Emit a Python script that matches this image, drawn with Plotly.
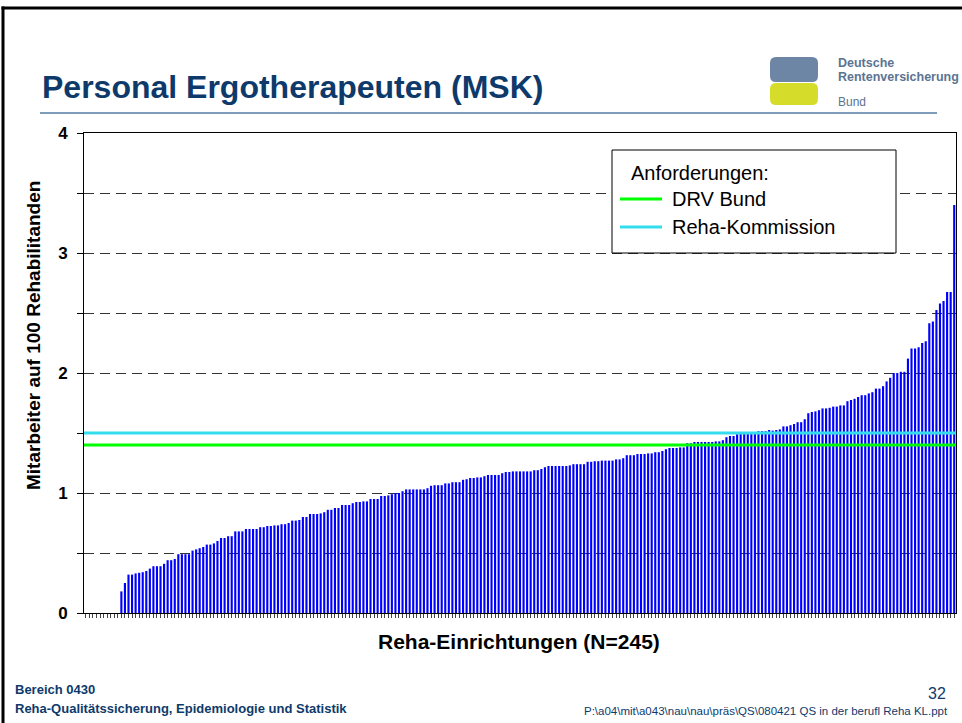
import plotly.graph_objects as go

# ---------------- data ----------------
zeros = [0.0] * 10
seg_a = [0.18, 0.25, 0.32, 0.32, 0.33, 0.335, 0.34, 0.35, 0.37, 0.39, 0.39, 0.39, 0.41,
         0.44, 0.44, 0.45, 0.49, 0.49, 0.49, 0.49, 0.52, 0.53, 0.54, 0.55, 0.57, 0.57,
         0.58, 0.60, 0.625, 0.625, 0.64, 0.64, 0.68, 0.68, 0.68, 0.70, 0.70, 0.70]
seg_b = [0.70, 0.715, 0.715, 0.725, 0.725, 0.73, 0.73, 0.74, 0.74, 0.75, 0.77, 0.77,
         0.775, 0.80, 0.80, 0.825, 0.825, 0.825, 0.83, 0.84, 0.86, 0.86, 0.875, 0.875,
         0.90, 0.90, 0.90, 0.915, 0.925, 0.925, 0.93, 0.93, 0.95, 0.95, 0.95, 0.975,
         0.975, 0.98, 0.99, 1.0, 1.0, 1.015, 1.03, 1.03, 1.03, 1.03, 1.03, 1.03, 1.04]
seg_c = [1.06, 1.065, 1.065, 1.065, 1.08, 1.08, 1.09, 1.09, 1.09, 1.11, 1.115, 1.125,
         1.125, 1.13, 1.13, 1.14, 1.15, 1.15, 1.15, 1.15, 1.165, 1.175, 1.175, 1.18,
         1.18, 1.18, 1.18, 1.18, 1.18, 1.19, 1.19, 1.20, 1.215, 1.225, 1.225, 1.225,
         1.225, 1.225, 1.225, 1.23, 1.24, 1.24, 1.24, 1.24, 1.26, 1.26, 1.265, 1.265]
seg_d = [1.27, 1.27, 1.27, 1.27, 1.28, 1.28, 1.29, 1.315, 1.315, 1.315, 1.325, 1.325,
         1.325, 1.33, 1.33, 1.34, 1.34, 1.35, 1.365, 1.375, 1.375, 1.375, 1.38, 1.38,
         1.415, 1.415, 1.425, 1.425, 1.425, 1.425, 1.425, 1.425, 1.43, 1.43, 1.44,
         1.465, 1.475, 1.475, 1.49, 1.50, 1.50, 1.50, 1.50, 1.50, 1.515, 1.515, 1.515,
         1.525]
seg_e = [1.52, 1.525, 1.53, 1.555, 1.555, 1.565, 1.575, 1.59, 1.59, 1.615, 1.665,
         1.675, 1.68, 1.69, 1.705, 1.705, 1.71, 1.72, 1.72, 1.73, 1.73, 1.765, 1.775,
         1.785, 1.80, 1.815, 1.815, 1.83, 1.84, 1.87, 1.87, 1.89, 1.93, 1.96, 2.0, 2.0,
         2.01, 2.01, 2.12, 2.205, 2.205, 2.215, 2.25, 2.265, 2.415, 2.43, 2.525, 2.58,
         2.60, 2.675, 2.675, 3.40]
values = zeros + seg_a + seg_b + seg_c + seg_d + seg_e
einrichtungen = list(range(1, len(values) + 1))

drv_bund = 1.4
reha_kommission = 1.5

y_tickvals = [0, 0.5, 1, 1.5, 2, 2.5, 3, 3.5, 4]
y_ticktext = ["0", "", "1", "", "2", "", "3", "", "4"]

title_text = "Personal Ergotherapeuten (MSK)"
x_title = "Reha-Einrichtungen (N=245)"
y_title = "Mitarbeiter auf 100 Rehabilitanden"
legend_title = "Anforderungen:"
legend_names = ["DRV Bund", "Reha-Kommission"]

# ---------------- geometry helpers ----------------
W, H = 962, 723
L, R, T, B = 84, 6, 133, 110
PW, PH = W - L - R, H - T - B


def px(x):
    return (x - L) / PW


def py(y):
    return (T + PH - y) / PH


def rounded_rect(x0, y0, x1, y1, r):
    """Rounded rectangle path in paper coords from pixel box (y0 top, y1 bottom)."""
    return (f"M {px(x0 + r)},{py(y0)} L {px(x1 - r)},{py(y0)} "
            f"Q {px(x1)},{py(y0)} {px(x1)},{py(y0 + r)} L {px(x1)},{py(y1 - r)} "
            f"Q {px(x1)},{py(y1)} {px(x1 - r)},{py(y1)} L {px(x0 + r)},{py(y1)} "
            f"Q {px(x0)},{py(y1)} {px(x0)},{py(y1 - r)} L {px(x0)},{py(y0 + r)} "
            f"Q {px(x0)},{py(y0)} {px(x0 + r)},{py(y0)} Z")


NAVY = "#0E3A6B"
GREEN = "#00FF00"
CYAN = "#33DDEE"
FONT = "Arial, Liberation Sans, sans-serif"

fig = go.Figure()
fig.add_bar(x=einrichtungen, y=values, marker=dict(color="#0000FF", line=dict(width=0)),
            showlegend=False, hoverinfo="y")
fig.add_scatter(x=[0.5, len(values) + 0.5], y=[drv_bund, drv_bund], mode="lines",
                line=dict(color=GREEN, width=3), name=legend_names[0], showlegend=False)
fig.add_scatter(x=[0.5, len(values) + 0.5], y=[reha_kommission, reha_kommission], mode="lines",
                line=dict(color=CYAN, width=3), name=legend_names[1], showlegend=False)

shapes = []
# slide frame (left and top edges)
shapes.append(dict(type="rect", xref="paper", yref="paper", x0=px(1.5), x1=px(4.5), y0=py(723), y1=py(6.5),
                   line=dict(width=0), fillcolor="black", layer="above"))
shapes.append(dict(type="rect", xref="paper", yref="paper", x0=px(1.5), x1=px(962), y0=py(9.5), y1=py(6.5),
                   line=dict(width=0), fillcolor="black", layer="above"))
# separator under title
shapes.append(dict(type="line", xref="paper", yref="paper", x0=px(40), x1=px(937), y0=py(113), y1=py(113),
                   line=dict(color="#7F9CBA", width=2)))
# logo blocks
shapes.append(dict(type="path", xref="paper", yref="paper", path=rounded_rect(770, 57, 818, 82, 6),
                   line=dict(width=0), fillcolor="#6E86A5"))
shapes.append(dict(type="path", xref="paper", yref="paper", path=rounded_rect(770, 83, 818, 105, 6),
                   line=dict(width=0), fillcolor="#D5DC2A"))
# legend box
shapes.append(dict(type="rect", xref="paper", yref="paper", x0=px(612), x1=px(896), y0=py(253), y1=py(150),
                   line=dict(color="black", width=1), fillcolor="white", layer="above"))
shapes.append(dict(type="line", xref="paper", yref="paper", x0=px(620), x1=px(662), y0=py(199), y1=py(199),
                   line=dict(color=GREEN, width=3), layer="above"))
shapes.append(dict(type="line", xref="paper", yref="paper", x0=px(620), x1=px(662), y0=py(227), y1=py(227),
                   line=dict(color=CYAN, width=3), layer="above"))


def ann(text, x, y, size, color="black", bold=False, xanchor="left", family=FONT, angle=0):
    return dict(text=text, xref="paper", yref="paper", x=px(x), y=py(y), xanchor=xanchor,
                yanchor="middle", showarrow=False, textangle=angle,
                font=dict(size=size, color=color, family=family, weight="bold" if bold else "normal"))


annotations = [
    ann(title_text, 40, 87, 32, NAVY, True),
    ann("Deutsche", 836, 63, 12.5, "#5B7492", True),
    ann("Rentenversicherung", 836, 77, 12.5, "#5B7492", True),
    ann("Bund", 836, 102, 12, "#5B7492", False),
    ann(legend_title, 629, 173, 20),
    ann(legend_names[0], 670, 199, 20),
    ann(legend_names[1], 670, 227, 20),
    ann(x_title, 519, 641, 21, bold=True, xanchor="center"),
    ann(y_title, 33, 336, 19, bold=True, xanchor="center", angle=-90),
    ann("Bereich 0430", 13, 689, 13, NAVY, True),
    ann("Reha-Qualitätssicherung, Epidemiologie und Statistik", 13, 708, 13, NAVY, True),
    ann("32", 948, 693, 16, NAVY, False, xanchor="right"),
    ann("P:\\a04\\mit\\a043\\nau\\nau\\präs\\QS\\080421 QS in der berufl Reha KL.ppt", 950, 711, 11.5,
        NAVY, False, xanchor="right"),
]

fig.update_layout(
    width=W, height=H, margin=dict(l=L, r=R, t=T, b=B, pad=0),
    paper_bgcolor="white", plot_bgcolor="white",
    bargap=0.4, showlegend=False,
    shapes=shapes, annotations=annotations,
    xaxis=dict(range=[0.5, len(values) + 0.5], showline=True, linecolor="black", linewidth=1, mirror=True,
               ticks="outside", ticklen=4, tickcolor="#444", tickwidth=1, tickmode="linear", tick0=1, dtick=1,
               showticklabels=False, showgrid=False, zeroline=False),
    yaxis=dict(range=[0, 4], tickmode="array", tickvals=y_tickvals, ticktext=y_ticktext,
               ticks="outside", ticklen=6, tickcolor="black", showline=True, linecolor="black", linewidth=1,
               mirror=True, showgrid=True, gridcolor="#333", gridwidth=1, griddash="10px,6px",
               zeroline=False, ticklabelstandoff=6,
               tickfont=dict(size=17, family=FONT, color="black", weight="bold")),
)

fig.write_html("out.html", config={"displayModeBar": False},
               post_script="document.body.style.margin='0';document.body.style.overflow='hidden';")
